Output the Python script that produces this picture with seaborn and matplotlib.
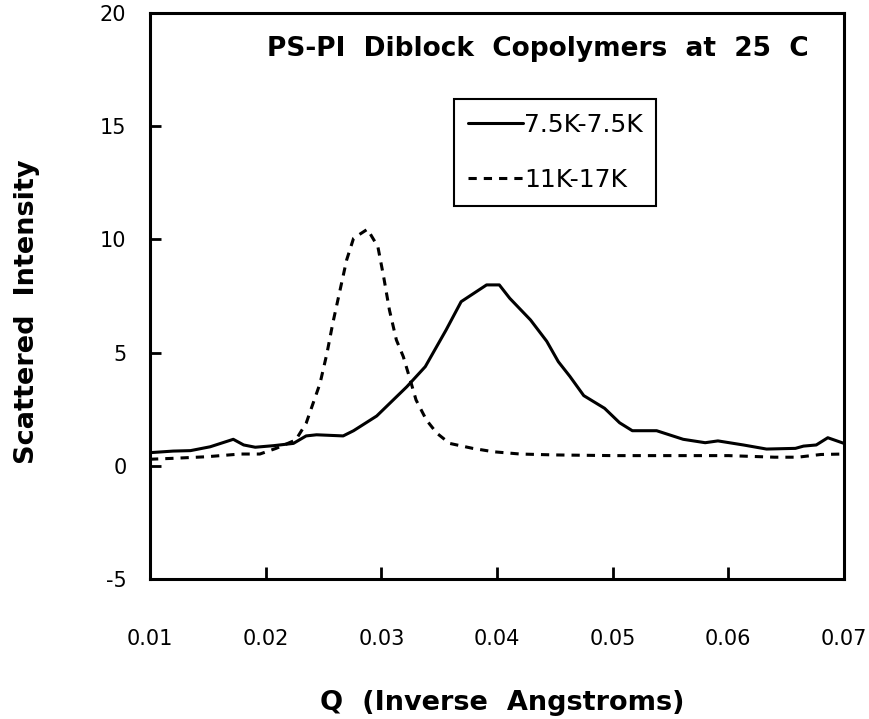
import matplotlib
matplotlib.use("Agg")
import matplotlib.pyplot as plt
import seaborn as sns
import pandas as pd

# Scattering curves: Q (1/Angstrom) and scattered intensity
q_a = [0.0100, 0.0120, 0.0135, 0.0152, 0.0172, 0.0181, 0.0191, 0.0207, 0.0224, 0.0235,
       0.0244, 0.0267, 0.0276, 0.0296, 0.0322, 0.0338, 0.0356, 0.0369, 0.0391, 0.0402,
       0.0411, 0.0429, 0.0443, 0.0453, 0.0463, 0.0475, 0.0493, 0.0506, 0.0517, 0.0538,
       0.0561, 0.0580, 0.0591, 0.0613, 0.0633, 0.0658, 0.0665, 0.0676, 0.0686, 0.0700]
int_a = [0.58, 0.65, 0.67, 0.84, 1.17, 0.92, 0.82, 0.89, 0.99, 1.32,
         1.37, 1.32, 1.55, 2.20, 3.49, 4.38, 6.00, 7.25, 7.99, 7.99,
         7.40, 6.44, 5.50, 4.60, 3.95, 3.10, 2.54, 1.90, 1.55, 1.55,
         1.17, 1.02, 1.10, 0.92, 0.74, 0.77, 0.87, 0.92, 1.24, 0.99]

q_b = [0.0100, 0.0120, 0.0149, 0.0178, 0.0195, 0.0209, 0.0226, 0.0235, 0.0247, 0.0253,
       0.0258, 0.0264, 0.0270, 0.0276, 0.0288, 0.0297, 0.0302, 0.0307, 0.0313, 0.0319,
       0.0325, 0.0330, 0.0339, 0.0348, 0.0359, 0.0379, 0.0397, 0.0420, 0.0450, 0.0500,
       0.0550, 0.0600, 0.0640, 0.0660, 0.0680, 0.0700]
int_b = [0.29, 0.33, 0.40, 0.52, 0.52, 0.77, 1.14, 1.88, 3.64, 4.97,
         6.29, 7.69, 9.09, 10.05, 10.45, 9.68, 8.35, 6.88, 5.56, 4.82,
         3.79, 2.91, 2.02, 1.44, 0.99, 0.77, 0.62, 0.52, 0.48, 0.45,
         0.45, 0.45, 0.38, 0.38, 0.50, 0.52]

series_names = ["7.5K-7.5K", "11K-17K"]
x_ticks = [0.01, 0.02, 0.03, 0.04, 0.05, 0.06, 0.07]
x_tick_labels = ["0.01", "0.02", "0.03", "0.04", "0.05", "0.06", "0.07"]
y_ticks = [-5, 0, 5, 10, 15, 20]
y_tick_labels = ["-5", "0", "5", "10", "15", "20"]

title_text = "PS-PI  Diblock  Copolymers  at  25  C"
x_label = "Q  (Inverse  Angstroms)"
y_label = "Scattered  Intensity"

df = pd.concat([
    pd.DataFrame({"Q": q_a, "I": int_a, "sample": series_names[0]}),
    pd.DataFrame({"Q": q_b, "I": int_b, "sample": series_names[1]}),
], ignore_index=True)

sns.set_theme(style="white")
plt.rcParams["font.family"] = ["DejaVu Sans"]
plt.rcParams["axes.unicode_minus"] = False
plt.rcParams["text.color"] = "black"
plt.rcParams["lines.solid_joinstyle"] = "round"

fig = plt.figure(figsize=(8.7, 7.19), dpi=100)
ax = fig.add_axes([150 / 870, 140 / 719, 694 / 870, 566 / 719])

sns.lineplot(
    data=df, x="Q", y="I", hue="sample", style="sample",
    palette={series_names[0]: "black", series_names[1]: "black"},
    dashes={series_names[0]: "", series_names[1]: (2.7, 2.3)},
    linewidth=2.2, sort=False, ax=ax,
)

ax.set_xlim(0.01, 0.07)
ax.set_ylim(-5, 20)
ax.set_xticks(x_ticks)
ax.set_xticklabels(x_tick_labels)
ax.set_yticks(y_ticks)
ax.set_yticklabels(y_tick_labels)

for side in ["left", "right", "top", "bottom"]:
    ax.spines[side].set_visible(True)
    ax.spines[side].set_color("black")
    ax.spines[side].set_linewidth(2.2)

ax.tick_params(axis="x", direction="in", length=8.6, width=2.0, pad=36,
               labelsize=15, colors="black", bottom=True, top=False)
ax.tick_params(axis="y", direction="in", length=8.0, width=2.0, pad=17,
               labelsize=15, colors="black", left=True, right=False)

ax.set_xlabel(x_label, fontsize=19.5, fontweight="bold", color="black")
ax.set_ylabel(y_label, fontsize=19.5, fontweight="bold", color="black")
ax.xaxis.set_label_coords(0.508, -0.196)
ax.yaxis.set_label_coords(-0.158, 0.472)

ax.text(0.559, 0.936, title_text, transform=ax.transAxes, ha="center", va="center",
        fontsize=19, fontweight="bold", color="black")

handles, labels = ax.get_legend_handles_labels()
ax.get_legend().remove()
leg = ax.legend(
    handles, labels, loc="upper left", bbox_to_anchor=(0.438, 0.848),
    borderaxespad=0, frameon=True, fancybox=False, framealpha=1.0, fontsize=18,
    handlelength=2.2, handletextpad=0.05, labelspacing=1.25, borderpad=0.55,
    labelcolor="black",
)
leg.get_frame().set_edgecolor("black")
leg.get_frame().set_linewidth(1.5)
for line in leg.get_lines():
    line.set_linewidth(2.2)

fig.savefig("out.png", dpi=100, facecolor="white")
